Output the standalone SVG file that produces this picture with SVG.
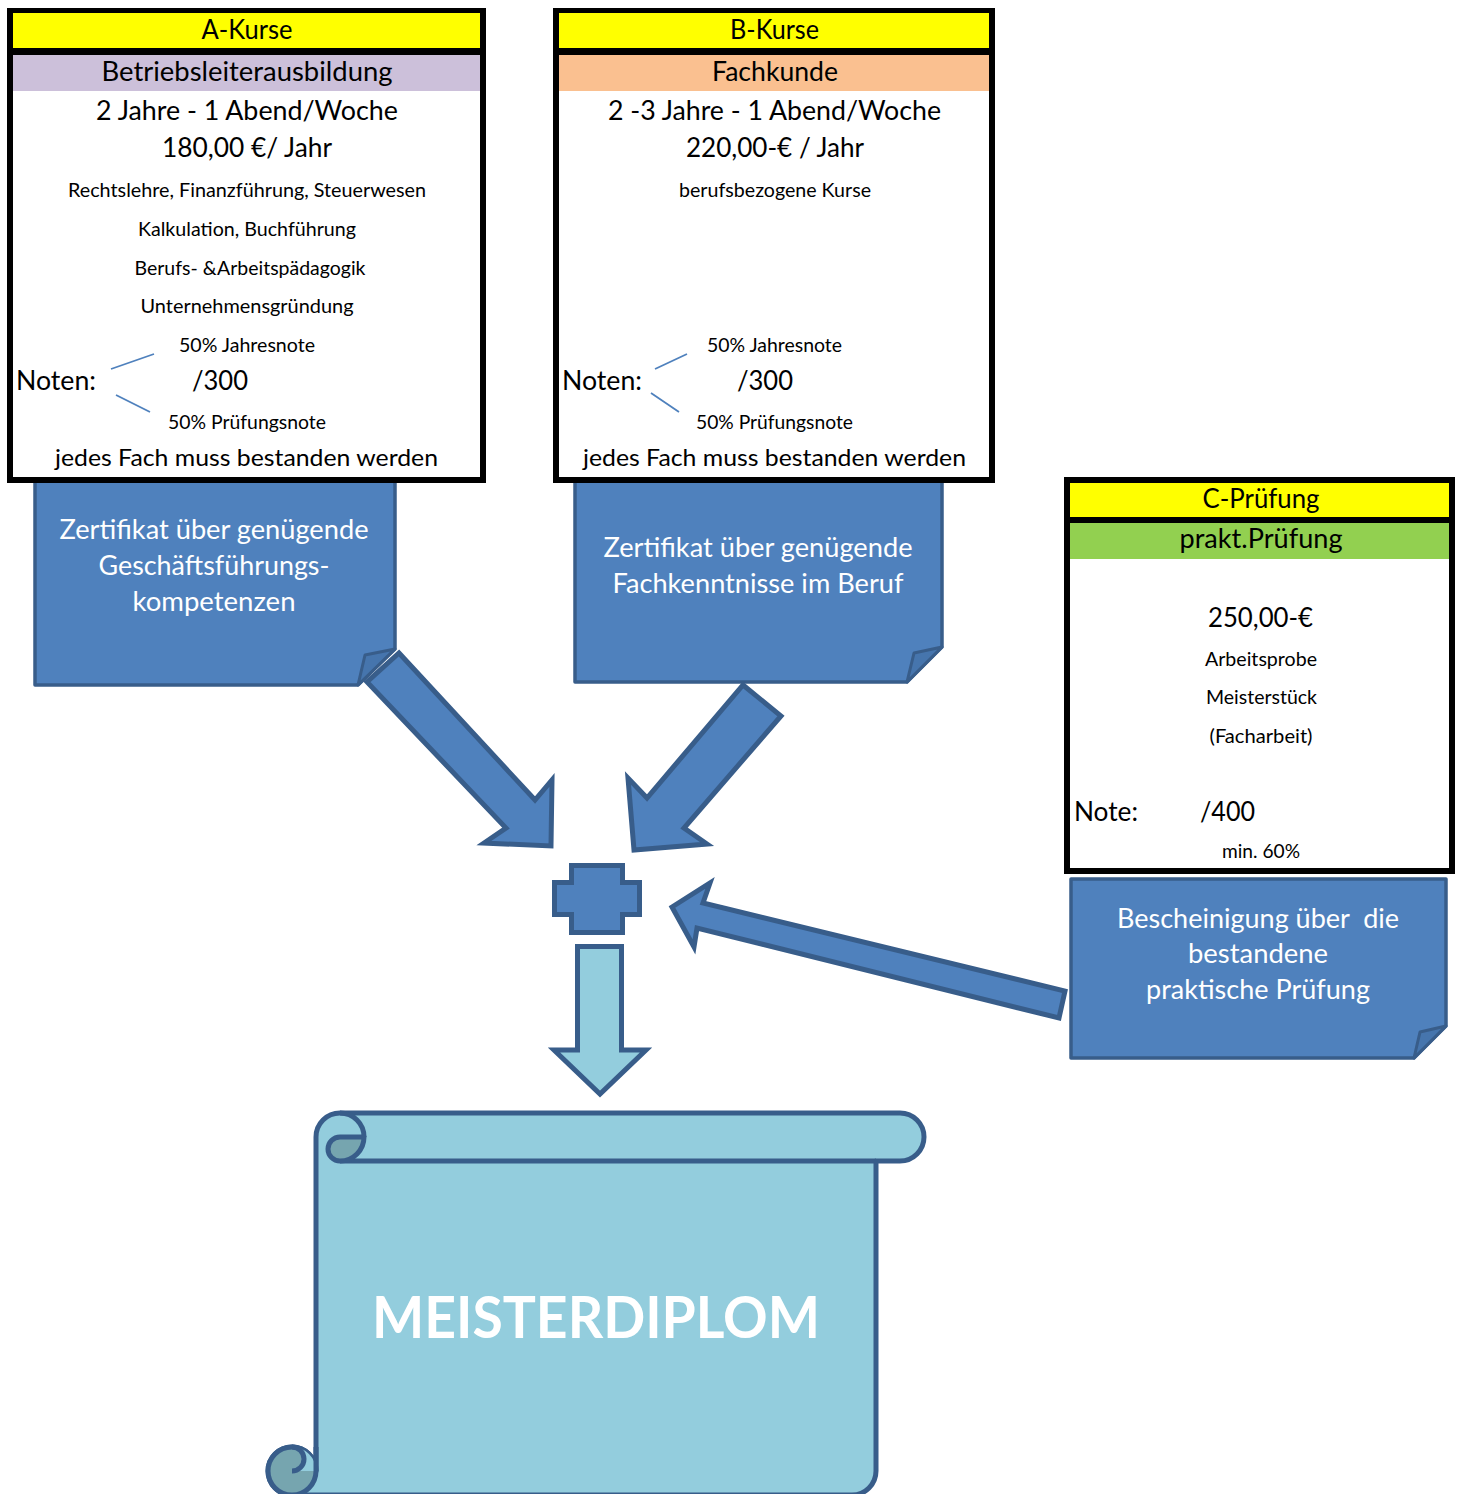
<svg xmlns="http://www.w3.org/2000/svg" width="1460" height="1494" viewBox="0 0 1460 1494">
<style>
text{font-family:Lato,"Open Sans","Liberation Sans",sans-serif;fill:#000}
.c{text-anchor:middle}
.h{font-size:26px}
.s{font-size:19px}
.j{font-size:24px}
.w{fill:#fff;font-size:26px;text-anchor:middle}
.note{fill:#4F81BD;stroke:#385D8A;stroke-width:3.5;stroke-linejoin:round}
.fold{fill:#4675AD;stroke:#385D8A;stroke-width:3;stroke-linejoin:round}
.arr{fill:#4F81BD;stroke:#385D8A;stroke-width:5;stroke-linejoin:miter}
.br{stroke:#4F81BD;stroke-width:1.8;fill:none}
.sc{stroke:#385D8A;stroke-width:5;stroke-linejoin:round}
</style>
<rect width="1460" height="1494" fill="#fff"/>

<g id="noteA">
<path class="note" d="M35,481 L395,481 L395,649 L358,685 L35,685 Z"/>
<path class="fold" d="M358,685 L365,655 L395,649 Z"/>
<text class="w" x="214" y="539" textLength="309" lengthAdjust="spacingAndGlyphs">Zertifikat über genügende</text>
<text class="w" x="214" y="575" textLength="231" lengthAdjust="spacingAndGlyphs">Geschäftsführungs-</text>
<text class="w" x="214" y="611" textLength="163" lengthAdjust="spacingAndGlyphs">kompetenzen</text>
</g>

<g id="noteB">
<path class="note" d="M575,481 L942,481 L942,647 L907,682 L575,682 Z"/>
<path class="fold" d="M907,682 L914,653 L942,647 Z"/>
<text class="w" x="758" y="557" textLength="309" lengthAdjust="spacingAndGlyphs">Zertifikat über genügende</text>
<text class="w" x="758" y="593" textLength="291" lengthAdjust="spacingAndGlyphs">Fachkenntnisse im Beruf</text>
</g>

<g id="noteC">
<path class="note" d="M1071,879 L1446,879 L1446,1026 L1414,1058 L1071,1058 Z"/>
<path class="fold" d="M1414,1058 L1420,1032 L1446,1026 Z"/>
<text class="w" x="1258" y="928" textLength="282" lengthAdjust="spacingAndGlyphs" xml:space="preserve">Bescheinigung über  die</text>
<text class="w" x="1258" y="963" textLength="140" lengthAdjust="spacingAndGlyphs">bestandene</text>
<text class="w" x="1258" y="999" textLength="224" lengthAdjust="spacingAndGlyphs">praktische Prüfung</text>
</g>

<g id="boxA">
<rect x="7" y="8" width="479" height="475" fill="#000"/>
<rect x="13" y="13" width="467" height="464" fill="#fff"/>
<rect x="13" y="13" width="467" height="35" fill="#FFFF00"/>
<rect x="13" y="48" width="467" height="7" fill="#000"/>
<rect x="13" y="55" width="467" height="36" fill="#CCC0DA"/>
<text class="h c" x="247" y="39" textLength="91" lengthAdjust="spacingAndGlyphs">A-Kurse</text>
<text class="h c" x="247" y="81" textLength="291" lengthAdjust="spacingAndGlyphs">Betriebsleiterausbildung</text>
<text class="h c" x="247" y="120" textLength="302" lengthAdjust="spacingAndGlyphs">2 Jahre - 1 Abend/Woche</text>
<text class="h c" x="247" y="157" textLength="170" lengthAdjust="spacingAndGlyphs">180,00 €/ Jahr</text>
<text class="s c" x="247" y="197" textLength="358" lengthAdjust="spacingAndGlyphs">Rechtslehre, Finanzführung, Steuerwesen</text>
<text class="s c" x="247" y="236" textLength="218" lengthAdjust="spacingAndGlyphs">Kalkulation, Buchführung</text>
<text class="s c" x="250" y="275" textLength="231" lengthAdjust="spacingAndGlyphs">Berufs- &amp;Arbeitspädagogik</text>
<text class="s c" x="247" y="313" textLength="213" lengthAdjust="spacingAndGlyphs">Unternehmensgründung</text>
<text class="s c" x="247" y="352" textLength="136" lengthAdjust="spacingAndGlyphs">50% Jahresnote</text>
<text class="h" x="16" y="390" textLength="80" lengthAdjust="spacingAndGlyphs">Noten:</text>
<text class="h" x="192" y="390" textLength="56" lengthAdjust="spacingAndGlyphs">/300</text>
<text class="s c" x="247" y="429" textLength="158" lengthAdjust="spacingAndGlyphs">50% Prüfungsnote</text>
<text class="j c" x="246.5" y="466" textLength="383" lengthAdjust="spacingAndGlyphs">jedes Fach muss bestanden werden</text>
<path class="br" d="M111,369 L154,354 M116,395 L150,412"/>
</g>

<g id="boxB">
<rect x="553" y="8" width="442" height="475" fill="#000"/>
<rect x="559" y="13" width="430" height="464" fill="#fff"/>
<rect x="559" y="13" width="430" height="35" fill="#FFFF00"/>
<rect x="559" y="48" width="430" height="7" fill="#000"/>
<rect x="559" y="55" width="430" height="36" fill="#FAC090"/>
<text class="h c" x="774.5" y="39" textLength="89" lengthAdjust="spacingAndGlyphs">B-Kurse</text>
<text class="h c" x="775" y="81" textLength="126" lengthAdjust="spacingAndGlyphs">Fachkunde</text>
<text class="h c" x="774.5" y="120" textLength="333" lengthAdjust="spacingAndGlyphs">2 -3 Jahre - 1 Abend/Woche</text>
<text class="h c" x="775" y="157" textLength="178" lengthAdjust="spacingAndGlyphs">220,00-€ / Jahr</text>
<text class="s c" x="775" y="197" textLength="192" lengthAdjust="spacingAndGlyphs">berufsbezogene Kurse</text>
<text class="s c" x="774.5" y="352" textLength="135" lengthAdjust="spacingAndGlyphs">50% Jahresnote</text>
<text class="h" x="562" y="390" textLength="80" lengthAdjust="spacingAndGlyphs">Noten:</text>
<text class="h" x="737" y="390" textLength="56" lengthAdjust="spacingAndGlyphs">/300</text>
<text class="s c" x="774.5" y="429" textLength="157" lengthAdjust="spacingAndGlyphs">50% Prüfungsnote</text>
<text class="j c" x="774.5" y="466" textLength="383" lengthAdjust="spacingAndGlyphs">jedes Fach muss bestanden werden</text>
<path class="br" d="M655,369 L687,354 M651,393 L679,412"/>
</g>

<g id="boxC">
<rect x="1064" y="477" width="391" height="397" fill="#000"/>
<rect x="1070" y="483" width="379" height="385" fill="#fff"/>
<rect x="1070" y="483" width="379" height="34" fill="#FFFF00"/>
<rect x="1070" y="517" width="379" height="6" fill="#000"/>
<rect x="1070" y="523" width="379" height="36" fill="#92D050"/>
<text class="h c" x="1261" y="508" textLength="117" lengthAdjust="spacingAndGlyphs">C-Prüfung</text>
<text class="h c" x="1261" y="548" textLength="163" lengthAdjust="spacingAndGlyphs">prakt.Prüfung</text>
<text class="h c" x="1260.5" y="627" textLength="105" lengthAdjust="spacingAndGlyphs">250,00-€</text>
<text class="s c" x="1261" y="666" textLength="112" lengthAdjust="spacingAndGlyphs">Arbeitsprobe</text>
<text class="s c" x="1261.5" y="704" textLength="111" lengthAdjust="spacingAndGlyphs">Meisterstück</text>
<text class="s c" x="1261" y="743" textLength="103" lengthAdjust="spacingAndGlyphs">(Facharbeit)</text>
<text class="h" x="1074" y="821" textLength="64" lengthAdjust="spacingAndGlyphs">Note:</text>
<text class="h" x="1200" y="821" textLength="55" lengthAdjust="spacingAndGlyphs">/400</text>
<text class="s c" x="1261" y="858" textLength="78" lengthAdjust="spacingAndGlyphs">min. 60%</text>
</g>

<g id="connectors">
<polygon class="arr" points="399,653 535,800 552,780 551,846 484,843 506,828 367,682"/>
<polygon class="arr" points="743,685 781,716 684,828 707,844 634,850 628,778 647,798"/>
<polygon class="arr" points="672,907 710,883 703,903 1065,991 1059,1018 697,928 694,947"/>
<polygon class="arr" style="fill:#93CDDD" points="577.5,946.5 621.5,946.5 621.5,1050 646,1050 600,1094 554,1050 577.5,1050"/>
</g>

<g id="plus">
<polygon class="arr" points="571.5,865.5 622.5,865.5 622.5,882.5 639.5,882.5 639.5,914.5 622.5,914.5 622.5,932.5 571.5,932.5 571.5,914.5 554.5,914.5 554.5,882.5 571.5,882.5"/>
</g>

<g id="scroll">
<path class="sc" fill="#93CDDD" d="M340,1113 L900,1113 A24,24 0 0 1 900,1161 L876,1161 L876,1471 A24,24 0 0 1 852,1495 L292,1495 A24,24 0 0 1 268,1471 A24,24 0 0 1 292,1447 A24,24 0 0 1 316,1471 L316,1137 A24,24 0 0 1 340,1113 Z"/>
<path class="sc" fill="none" d="M340,1161 L876,1161"/>
<path class="sc" fill="#76A5AF" d="M340,1137 L364,1137 A24,24 0 0 1 340,1161 A12,12 0 0 1 340,1137 Z"/>
<path class="sc" fill="none" d="M340,1113 A24,24 0 0 1 364,1137"/>
<circle class="sc" cx="292" cy="1471" r="24" fill="#76A5AF"/>
<path fill="#93CDDD" d="M292,1447 A24,24 0 0 1 316,1471 L292,1471 A12,12 0 0 0 292,1447 Z"/>
<path class="sc" fill="none" d="M292,1471 A12,12 0 0 0 292,1447 M316,1447 L316,1471"/>
<text x="596" y="1338" text-anchor="middle" style="font-size:58px;font-weight:700;fill:#fff" textLength="448" lengthAdjust="spacingAndGlyphs">MEISTERDIPLOM</text>
</g>
</svg>
